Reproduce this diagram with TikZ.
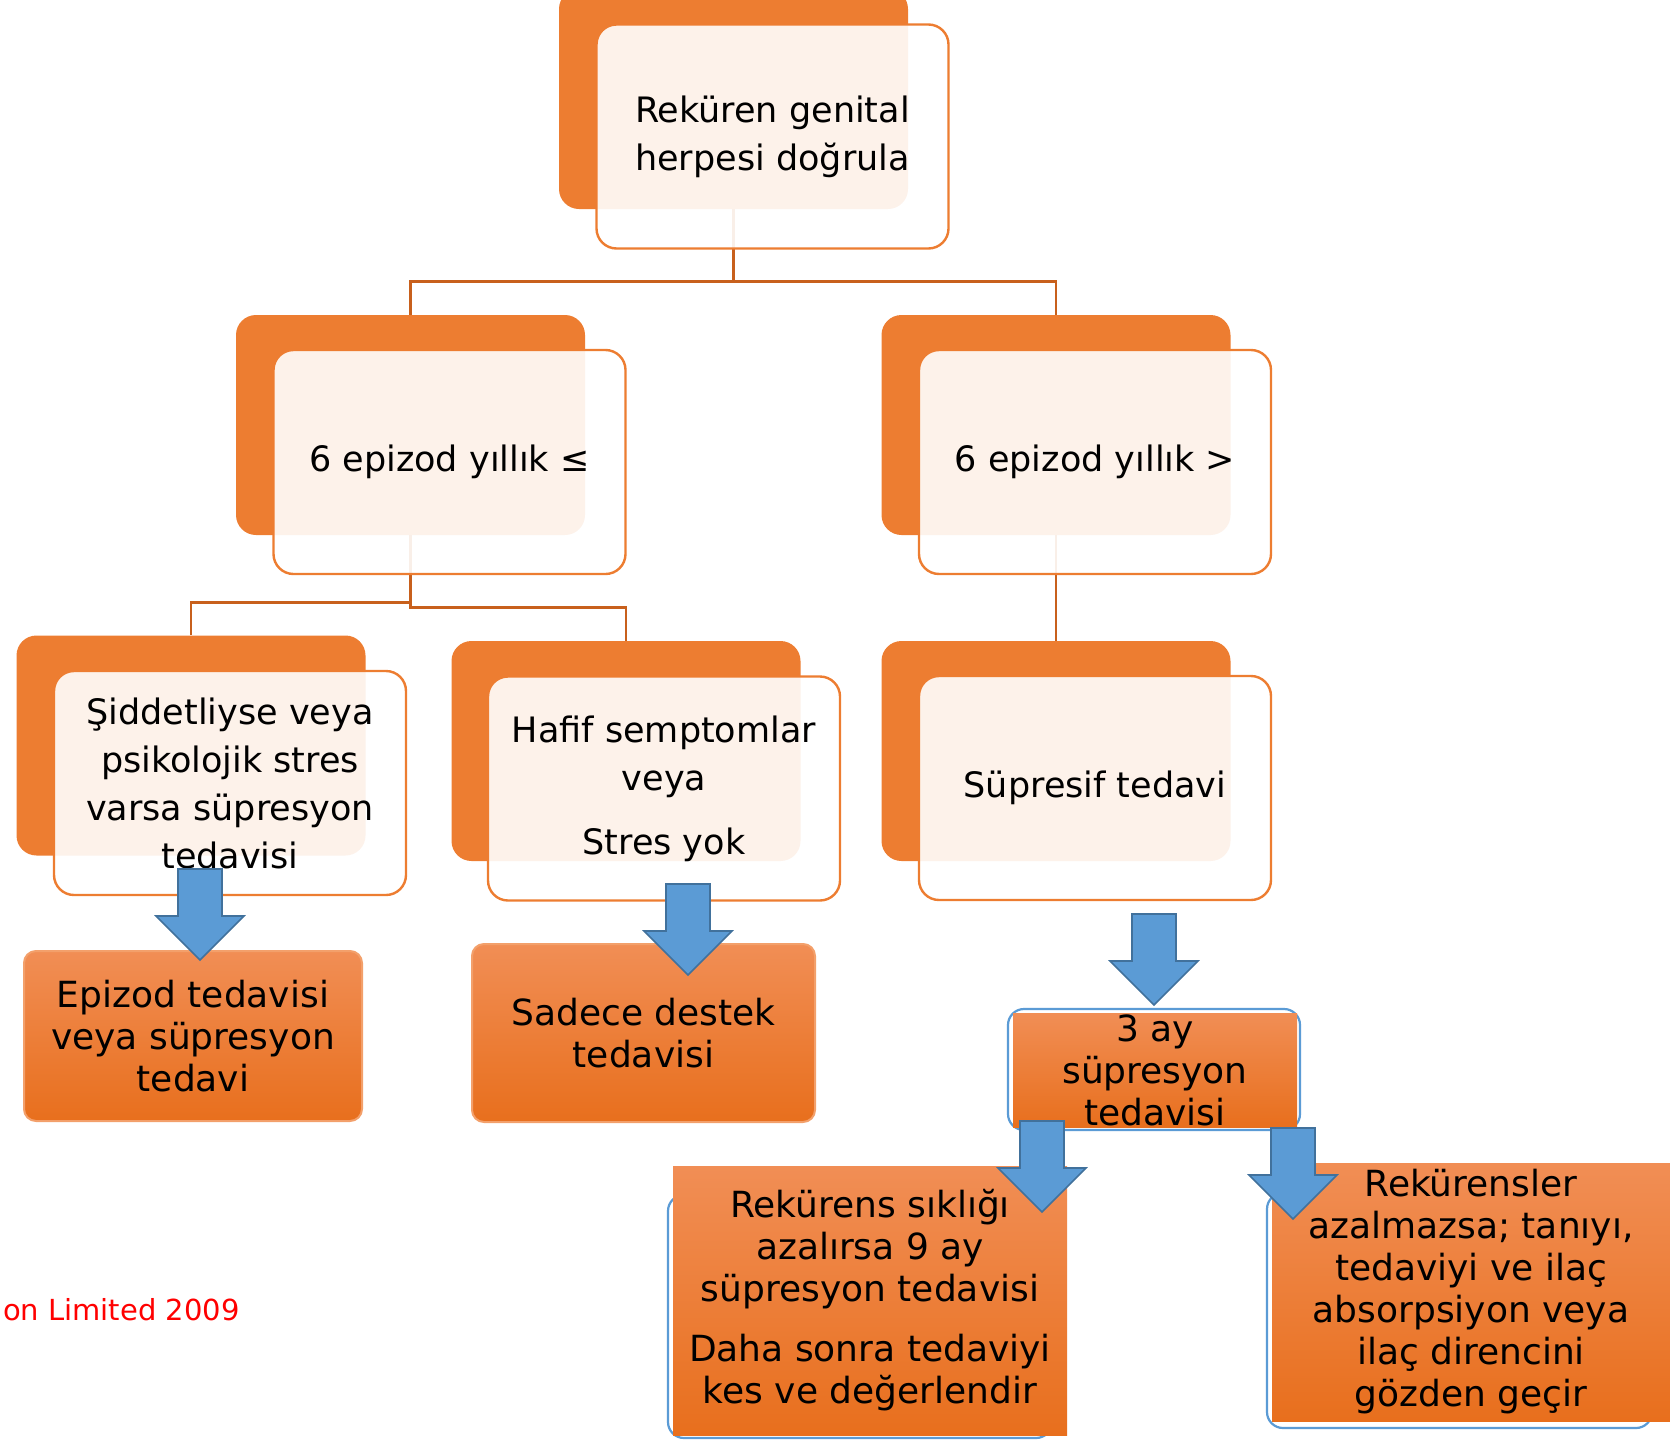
\documentclass[tikz,border=0pt]{standalone}
\usepackage{fontspec}
\setmainfont{DejaVu Sans}
\usetikzlibrary{calc}

\definecolor{accent}{HTML}{ED7D31}
\definecolor{linecol}{HTML}{C8601C}
\definecolor{arrowfill}{HTML}{5B9BD5}
\definecolor{arrowline}{HTML}{41719C}
\definecolor{boxtop}{HTML}{F18E55}
\definecolor{boxbot}{HTML}{E86F1D}
\definecolor{boxedge}{HTML}{F3A06B}
\definecolor{note}{HTML}{FF0000}

\begin{document}
\begin{tikzpicture}[
  x=0.5pt, y=-0.5pt,
  back/.style={rectangle, rounded corners=10pt, fill=accent, inner sep=0pt,
               minimum width=174.5pt, minimum height=110pt},
  front/.style={rectangle, rounded corners=10pt, draw=accent, line width=1.2pt,
                fill=white, fill opacity=0.9, text opacity=1, align=center,
                inner sep=4pt, minimum width=176pt, minimum height=112pt,
                font=\fontsize{17.5}{24}\selectfont},
  result/.style={rectangle, rounded corners=6pt, draw=boxedge, line width=1pt,
                 top color=boxtop, bottom color=boxbot, align=center, inner sep=0pt,
                 font=\fontsize{18}{21}\selectfont},
  plain/.style={rectangle, top color=boxtop, bottom color=boxbot, align=center,
                inner sep=0pt, font=\fontsize{18}{21}\selectfont},
  outline/.style={rectangle, rounded corners=8pt, draw=arrowfill, line width=1.1pt,
                  inner sep=0pt},
  conn/.style={draw=linecol, line width=1.3pt},
  credit/.style={text=note, inner sep=0pt, font=\fontsize{14.5}{17}\selectfont},
  blockarrow/.pic={\draw[draw=arrowline, fill=arrowfill, line width=0.8pt]
    (-22,0) -- (22,0) -- (22,47) -- (44,47) -- (0,91) -- (-44,47) -- (-22,47) -- cycle;}
]
\useasboundingbox (0,0) rectangle (1670,1440);
\clip (0,0) rectangle (1670,1440);

% ---------------- orange cards behind ----------------
\node[back] (confirmbg) at (733.5,99) {};
\node[back] (fewbg) at (410.5,425) {};
\node[back] (manybg) at (1056,425) {};
\node[back] (severebg) at (191,745.5) {};
\node[back] (mildbg) at (626,751) {};
\node[back] (suppbg) at (1056,751) {};

% ---------------- tree lines ----------------
\draw[conn] (confirmbg.south) -- ++(0,72) -| (fewbg.north);
\draw[conn] (confirmbg.south) -- ++(0,72) -| (manybg.north);
\draw[conn] (fewbg.south) -- ++(0,67) -| (severebg.north);
\draw[conn] (fewbg.south) -- ++(0,72) -| (mildbg.north);
\draw[conn] (manybg.south) -- (suppbg.north);

% ---------------- white cards ----------------
\node[front] (confirm) at (772.5,136.5) {Reküren genital\\herpesi doğrula};
\node[front] (few) at (449.5,462) {6 epizod yıllık ≤};
\node[front] (many) at (1095,462) {6 epizod yıllık >};
\node[front] (severe) at (230,783)
  {Şiddetliyse veya\\psikolojik stres\\varsa süpresyon\\tedavisi};
\node[front] (mild) at (664,788.5) {Hafif semptomlar\\veya\\[8pt]Stres yok};
\node[front] (supp) at (1095,788) {Süpresif tedavi};

% ---------------- treatment boxes ----------------
\node[outline, minimum width=146pt, minimum height=60.5pt] (threebg) at (1154,1069.5) {};
\node[outline, minimum width=192pt, minimum height=121.5pt] (ninebg) at (860,1316.5) {};
\node[outline, minimum width=192.5pt, minimum height=117.5pt] (reviewbg) at (1459.5,1310.5) {};

\node[result, minimum width=169pt, minimum height=85pt] (epis) at (193,1036)
  {Epizod tedavisi\\veya süpresyon\\tedavi};
\node[result, minimum width=171.5pt, minimum height=89pt] (support) at (643.5,1033)
  {Sadece destek\\tedavisi};
\node[plain, minimum width=142pt, minimum height=57pt] (three) at (1155,1070)
  {3 ay\\süpresyon\\tedavisi};
\node[plain, minimum width=197pt, minimum height=134.5pt] (nine) at (870,1300.5)
  {Rekürens sıklığı\\azalırsa 9 ay\\süpresyon tedavisi\\[9pt]
   Daha sonra tedaviyi\\kes ve değerlendir};
\node[plain, minimum width=199pt, minimum height=129pt] (review) at (1471,1292)
  {Rekürensler\\azalmazsa; tanıyı,\\tedaviyi ve ilaç\\absorpsiyon veya\\
   ilaç direncini\\gözden geçir};

% ---------------- block arrows ----------------
\pic at (200,869) {blockarrow};
\pic at (688,884) {blockarrow};
\pic at (1154,914) {blockarrow};
\pic at (1042,1121) {blockarrow};
\pic at (1293,1128) {blockarrow};

\node[credit, anchor=east] (source) at (240,1310) {on Limited 2009};
\end{tikzpicture}
\end{document}
